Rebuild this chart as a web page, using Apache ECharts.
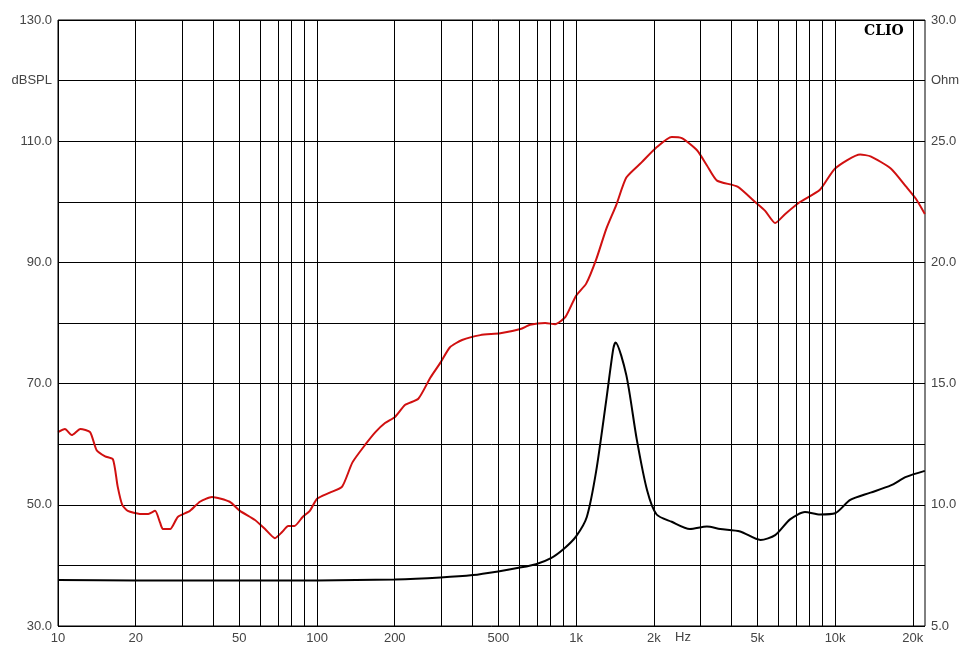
<!DOCTYPE html>
<html><head><meta charset="utf-8">
<script src="https://cdn.jsdelivr.net/npm/echarts@6/dist/echarts.min.js"></script>
<style>html,body{margin:0;padding:0;background:#fff}#c{width:967px;height:666px}</style>
</head><body><div id="c"></div>
<script>
const splFreq=[10,10.64,11.3,12.2,13.3,14.1,15.2,16.3,17.0,17.7,18.6,20.7,22.3,23.7,24.8,25.4,27.1,29.0,32.3,35.3,39.3,46.0,50.4,57.6,63,68.8,73.3,77.4,81.8,88,93.8,100,112,125,137,154,168,183,200,219,246,274,300,326,363,427,510,610,664,760,830,910,1000,1094,1196,1307,1430,1563,1790,2046,2340,2560,2930,3200,3500,4200,4900,5370,5870,6420,7340,8740,10000,12500,13700,16400,18800,20500,22200];
const splDb=[62,62.5,61.5,62.5,62,59,58,57.5,53,50,49,48.5,48.5,49,47,46,46,48,49,50.5,51.3,50.5,49,47.5,46,44.5,45.5,46.5,46.5,48,49,51,52,53,57,60,62,63.5,64.5,66.5,67.5,71,73.5,76,77.2,78,78.3,79,79.7,80,79.8,81,84.5,86.5,90.5,95.5,99.5,104,106.5,109,110.7,110.5,108.5,106,103.5,102.5,100,98.5,96.5,98,100,102,105.5,107.8,107.5,105.5,102.5,100.5,98];
const impFreq=[10,20,100,200,300,400,500,600,700,800,900,1000,1100,1196,1307,1390,1420,1563,1715,1880,2046,2340,2750,3200,3600,4300,5150,5870,6700,7650,8740,10000,11440,13700,16400,18800,22200];
const impOhm=[6.9,6.88,6.88,6.92,7.0,7.1,7.25,7.4,7.55,7.8,8.2,8.7,9.5,11.4,14.3,16.4,16.7,15.35,12.7,10.6,9.6,9.3,9.0,9.1,9.0,8.9,8.55,8.75,9.4,9.7,9.6,9.65,10.2,10.5,10.8,11.15,11.4];
const gridFreqs=[10,20,30,40,50,60,70,80,90,100,200,300,400,500,600,700,800,900,1000,2000,3000,4000,5000,6000,7000,8000,9000,10000,20000];
const freqLabels={10:'10',20:'20',50:'50',100:'100',200:'200',500:'500',1000:'1k',2000:'2k',5000:'5k',10000:'10k',20000:'20k'};
const L=Math.log10;
const chart=echarts.init(document.getElementById('c'));
chart.setOption({
  animation:false,backgroundColor:'#fff',
  grid:{left:58,right:42,top:20,bottom:40,show:true,borderColor:'#000',borderWidth:1},
  xAxis:{type:'value',min:1,max:4.347,axisLabel:{show:false},splitLine:{show:false},axisTick:{show:false},axisLine:{show:false}},
  yAxis:[
    {type:'value',min:30,max:130,interval:10,axisLine:{show:false},axisTick:{show:false},
     splitLine:{lineStyle:{color:'#000',width:1}},
     axisLabel:{color:'#444',fontFamily:'Arial, Liberation Sans',fontSize:13,margin:6,
       formatter:v=>v===120?'dBSPL':(v%20===10?v.toFixed(1):'')}},
    {type:'value',min:5,max:30,interval:2.5,position:'right',axisLine:{show:false},axisTick:{show:false},splitLine:{show:false},
     axisLabel:{color:'#444',fontFamily:'Arial, Liberation Sans',fontSize:13,margin:6,
       formatter:v=>v===27.5?'Ohm':(v%5===0?v.toFixed(1):'')}}
  ],
  graphic:[
    {type:'text',left:864,top:24,style:{text:'CLIO',font:'bold 14px "DejaVu Serif", serif',fill:'#000'}},
    {type:'text',left:675,top:631,style:{text:'Hz',font:'13px Arial, "Liberation Sans"',fill:'#444'}}
  ],
  series:[
    {type:'line',data:[],markLine:{silent:true,symbol:['none','none'],
      lineStyle:{color:'#000',width:1,type:'solid'},
      label:{position:'start',distance:6,color:'#444',fontFamily:'Arial, Liberation Sans',fontSize:13,
        formatter:p=>p.name},
      data:gridFreqs.map(f=>({xAxis:L(f),name:freqLabels[f]||''}))}},
    {type:'line',yAxisIndex:1,showSymbol:false,smooth:0.25,lineStyle:{color:'#000',width:2},itemStyle:{color:'#000'},
      data:impFreq.map((f,i)=>[L(f),impOhm[i]])},
    {type:'line',showSymbol:false,smooth:0.2,lineStyle:{color:'#d01010',width:2},itemStyle:{color:'#d01010'},
      data:splFreq.map((f,i)=>[L(f),splDb[i]])}
  ]
});
</script></body></html>
